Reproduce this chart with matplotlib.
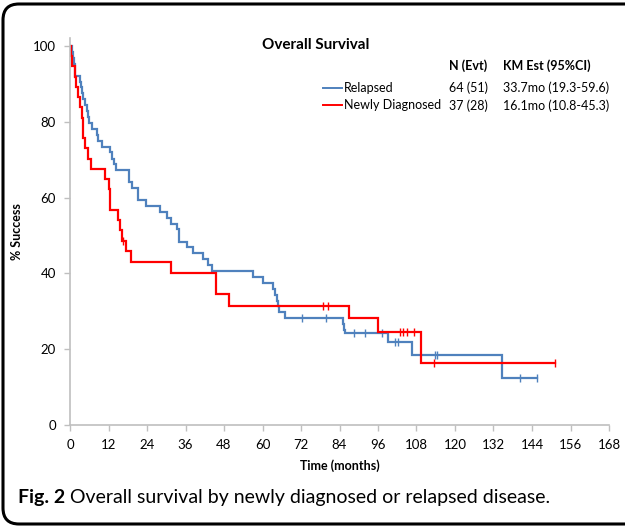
import numpy as np
import matplotlib
matplotlib.use("Agg")
import matplotlib.pyplot as plt
from matplotlib.path import Path
from matplotlib.patches import PathPatch

# ---------------- data ----------------
relapsed_t = [0, 0.5, 1.0, 1.3, 1.5, 1.7, 3.2, 3.4, 3.6, 4.2, 4.7, 5.3, 5.6, 5.8, 6.8, 8.3, 8.6,
              10.0, 12.5, 13.2, 13.6, 14.2, 18.5, 19.2, 21.3, 23.7, 28.0, 30.1, 31.5, 33.2, 34.1,
              36.4, 38.2, 41.5, 43.1, 44.2, 57.0, 60.0, 63.2, 63.9, 64.6, 64.9, 65.2, 67.0,
              85.1, 85.4, 85.7, 99.2, 106.7, 134.8, 145.7]
relapsed_s = [100, 98.4, 96.9, 95.3, 93.8, 92.2, 90.6, 89.1, 87.5, 85.9, 84.4, 82.8, 81.3, 79.7, 78.1, 76.6, 75.0,
              73.4, 71.9, 70.3, 68.8, 67.2, 64.1, 62.5, 59.4, 57.8, 56.3, 54.7, 53.1, 51.6, 48.4,
              46.9, 45.3, 43.8, 42.2, 40.6, 39.1, 37.5, 35.9, 34.4, 32.8, 31.3, 29.7, 28.1,
              26.6, 25.0, 24.4, 22.0, 18.5, 12.3, 12.3]
relapsed_cens = [72.4, 79.8, 88.5, 91.9, 97.2, 101.3, 102.3, 113.8, 114.3, 140.3, 145.7]

newdx_t = [0, 0.4, 0.6, 1.6, 2.0, 2.6, 3.1, 3.6, 4.0, 4.2, 4.7, 5.7, 6.6, 10.9, 12.0, 12.5,
           15.1, 15.6, 16.1, 17.6, 19.0, 31.5, 45.5, 49.7, 87.1, 96.1, 109.4, 151.2]
newdx_s = [100, 97.3, 94.6, 91.9, 89.2, 86.5, 83.8, 81.1, 78.4, 75.7, 73.0, 70.3, 67.6, 64.9, 62.2, 56.8,
           54.1, 51.4, 48.6, 45.9, 43.1, 40.0, 34.6, 31.5, 28.1, 24.6, 16.4, 16.4]
newdx_cens = [16.6, 79.0, 80.5, 102.9, 103.9, 105.1, 107.2, 113.6, 151.2]

labels = ["Relapsed", "Newly Diagnosed"]
n_evt = ["64 (51)", "37 (28)"]
km_est = ["33.7mo (19.3-59.6)", "16.1mo (10.8-45.3)"]
xticks = list(range(0, 169, 12))
yticks = list(range(0, 101, 20))

BLUE = "#4F81BD"
RED = "#FF0000"
GRAY = "#BFBFBF"

plt.rcParams['font.family'] = ['Lato', 'DejaVu Sans']

W, H = 625, 527
fig = plt.figure(figsize=(W / 100, H / 100), dpi=100)

def fx(x):
    return x / W

def fy(y):
    return 1 - y / H

# axes: x 0..168 -> px 70..609 ; y 0..102 -> px 425..38.4
ax = fig.add_axes([fx(70), fy(425), fx(609) - fx(70), fy(38.4) - fy(425)])
ax.set_xlim(0, 168)
ax.set_ylim(0, 102)

def cens_vals(ts, ss, cs):
    ts = np.asarray(ts); ss = np.asarray(ss)
    idx = np.searchsorted(ts, cs, side='right') - 1
    return ss[idx]

for t, s, c, col, lab in [(relapsed_t, relapsed_s, relapsed_cens, BLUE, labels[0]),
                          (newdx_t, newdx_s, newdx_cens, RED, labels[1])]:
    ax.step(t, s, where='post', color=col, lw=1.6, label=lab, solid_joinstyle='miter')
    ax.plot(c, cens_vals(t, s, c), ls='none', marker='|', ms=6, mew=1.0, color=col)

ax.set_xticks(xticks)
ax.set_yticks(yticks)
ax.tick_params(axis='both', colors=GRAY, labelcolor='black', labelsize=9.5, length=4, width=1, direction='out')
ax.tick_params(axis='x', pad=6)
ax.tick_params(axis='y', pad=6)
for sp in ['top', 'right']:
    ax.spines[sp].set_visible(False)
for sp in ['left', 'bottom']:
    ax.spines[sp].set_color(GRAY)
    ax.spines[sp].set_linewidth(1.2)

ax.set_xlabel("Time (months)", fontsize=9, fontweight='bold', labelpad=6)
ax.set_ylabel("% Success", fontsize=9, fontweight='bold', labelpad=7)

# title & legend
fig.text(fx(316), fy(45), "Overall Survival", ha='center', va='center', fontsize=11, fontweight='bold')
fig.text(fx(449), fy(66), "N (Evt)", ha='left', va='center', fontsize=9, fontweight='bold')
fig.text(fx(503), fy(66), "KM Est (95%CI)", ha='left', va='center', fontsize=9, fontweight='bold')

leg = ax.legend(loc='upper left', bbox_to_anchor=(fx(323), fy(82)), bbox_transform=fig.transFigure,
                frameon=False, fontsize=9, handlelength=1.5, handletextpad=0.15,
                labelspacing=0.40, borderpad=0, borderaxespad=0)
for line in leg.get_lines():
    line.set_linewidth(1.4)

row_y = [88, 106]
for i in range(2):
    fig.text(fx(488), fy(row_y[i]), n_evt[i], ha='right', va='center', fontsize=9)
    fig.text(fx(503), fy(row_y[i]), km_est[i], ha='left', va='center', fontsize=9)

# caption
cap_y = fy(498)
t1 = fig.text(fx(18), cap_y, "Fig. 2", ha='left', va='center', fontsize=14, fontweight='bold')
fig.canvas.draw()
bb = t1.get_window_extent()
fig.text(fx(bb.x1 + 5), cap_y, "Overall survival by newly diagnosed or relapsed disease.",
         ha='left', va='center', fontsize=14, fontweight='normal')

# frame: left bracket with rounded corners, open at right
r = 16
x0, y0, y1, xr = 3, 4, 524, 640
verts = [(xr, y0), (x0 + r, y0), (x0, y0), (x0, y0 + r), (x0, y1 - r), (x0, y1), (x0 + r, y1), (xr, y1)]
codes = [Path.MOVETO, Path.LINETO, Path.CURVE3, Path.CURVE3, Path.LINETO, Path.CURVE3, Path.CURVE3, Path.LINETO]
verts_f = [(fx(a), fy(b)) for a, b in verts]
fig.patches.append(PathPatch(Path(verts_f, codes), transform=fig.transFigure, fill=False,
                             edgecolor='black', lw=2.2, clip_on=False))

fig.savefig("out.png", dpi=100)
